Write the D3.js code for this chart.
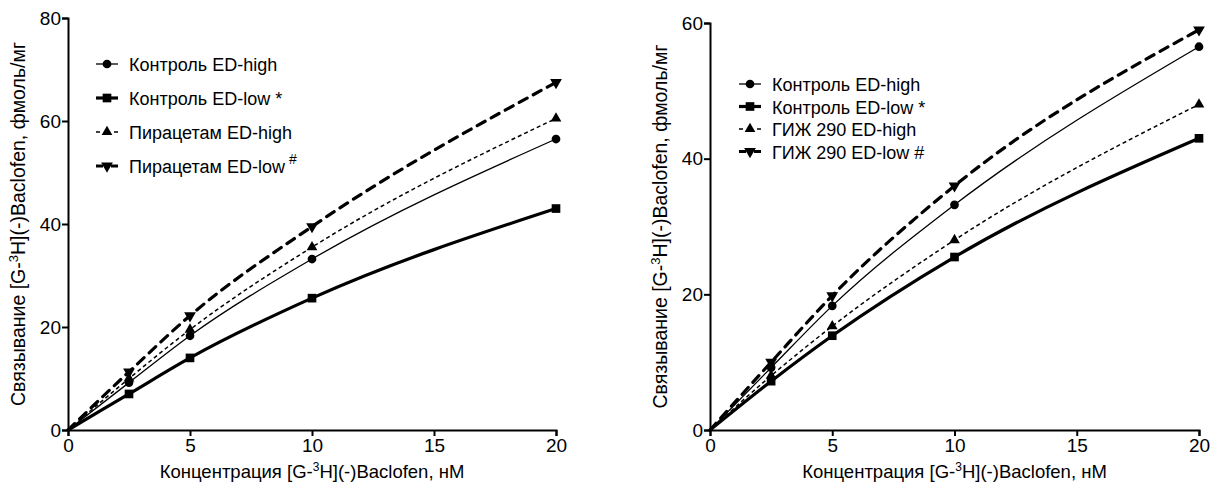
<!DOCTYPE html>
<html>
<head>
<meta charset="utf-8">
<title>Baclofen binding</title>
<script src="https://cdn.jsdelivr.net/npm/d3@7"></script>
<style>
body { margin: 0; background: #fff; }
svg { font-family: "Liberation Sans", Arial, sans-serif; }
.axis path, .axis line { stroke: #000; stroke-width: 2; }
.axis text { font-size: 19px; fill: #000; }
</style>
</head>
<body>
<script>
// concentrations, нМ
var conc = [0, 2.5, 5, 10, 20];

// left panel
var ctrlHighL = [0, 9.2, 18.3, 33.2, 56.5];
var ctrlLowL = [0, 7.0, 14.0, 25.6, 43.0];
var pirHigh = [0, 10.0, 19.5, 35.5, 60.5];
var pirLow = [0, 11.3, 22.2, 39.5, 67.5];

// right panel
var ctrlHighR = [0, 9.2, 18.3, 33.2, 56.5];
var ctrlLowR = [0, 7.2, 13.9, 25.5, 43.0];
var gizHigh = [0, 8.0, 15.3, 28.0, 48.0];
var gizLow = [0, 10.0, 19.8, 36.0, 59.0];

var xTicks = [0, 5, 10, 15, 20];
var yTicksL = [0, 20, 40, 60, 80];
var yTicksR = [0, 20, 40, 60];

var styles = [
  {sym: d3.symbolCircle, size: 60, width: 1.3, dash: null},
  {sym: d3.symbolSquare, size: 75, width: 3.2, dash: null},
  {sym: d3.symbolTriangle, size: 50, width: 1.5, dash: "4,3"},
  {sym: "down", size: 60, width: 3.2, dash: "9,7"}
];

var svg = d3.select("body").append("svg").attr("width", 1217).attr("height", 493);

function marker(g, st, x, y) {
  if (st.sym === "down") {
    g.append("path").attr("d", d3.symbol(d3.symbolTriangle, st.size)())
      .attr("transform", "translate(" + x + "," + y + ") rotate(180)").attr("fill", "#000");
  } else {
    g.append("path").attr("d", d3.symbol(st.sym, st.size)())
      .attr("transform", "translate(" + x + "," + y + ")").attr("fill", "#000");
  }
}

function panel(cfg) {
  var x = d3.scaleLinear().domain([0, 20]).range(cfg.xr);
  var y = d3.scaleLinear().domain([0, cfg.ymax]).range(cfg.yr);
  var g = svg.append("g");

  g.append("g").attr("class", "axis").attr("transform", "translate(0," + cfg.yr[0] + ")")
    .call(d3.axisBottom(x).tickValues(xTicks).tickSize(6).tickPadding(3).tickFormat(d3.format("d")));
  g.append("g").attr("class", "axis").attr("transform", "translate(" + cfg.xr[0] + ",0)")
    .call(d3.axisLeft(y).tickValues(cfg.yTicks).tickSize(6).tickPadding(1).tickFormat(d3.format("d")));

  var line = d3.line().x(function(d) { return x(d[0]); }).y(function(d) { return y(d[1]); })
    .curve(d3.curveMonotoneX);

  cfg.series.forEach(function(vals, i) {
    var st = styles[i];
    var pts = conc.map(function(c, j) { return [c, vals[j]]; });
    g.append("path").datum(pts).attr("d", line).attr("fill", "none").attr("stroke", "#000")
      .attr("stroke-width", st.width).attr("stroke-dasharray", st.dash)
      .attr("stroke-linecap", i === 3 ? "round" : "butt");
    pts.slice(1).forEach(function(p) { marker(g, st, x(p[0]), y(p[1])); });
  });

  // legend
  cfg.labels.forEach(function(lab, i) {
    var st = styles[i];
    var ly = cfg.leg[1] + i * cfg.leg[2];
    var lx = cfg.leg[0];
    g.append("line").attr("x1", lx).attr("x2", lx + 22).attr("y1", ly).attr("y2", ly)
      .attr("stroke", "#000").attr("stroke-width", st.width)
      .attr("stroke-dasharray", st.dash ? (i === 2 ? "4,5" : "7,8") : null);
    marker(g, st, lx + 11, ly);
    var t = g.append("text").attr("x", lx + 33).attr("y", ly + 7).attr("font-size", 18);
    t.append("tspan").text(lab[0]);
    if (lab[1]) t.append("tspan").attr("dy", -9).attr("dx", 4).attr("font-size", 14).text(lab[1]);
  });

  // axis titles
  var xt = g.append("text").attr("x", (cfg.xr[0] + cfg.xr[1]) / 2).attr("y", 478)
    .attr("text-anchor", "middle").attr("font-size", 18.5);
  xt.append("tspan").text("Концентрация [G-");
  xt.append("tspan").attr("dy", -7).attr("font-size", 12).text("3");
  xt.append("tspan").attr("dy", 7).text("H](-)Baclofen, нМ");

  var yt = g.append("text").attr("transform", "translate(" + cfg.ylx + "," + (cfg.yr[0] + cfg.yr[1]) / 2 + ") rotate(-90)")
    .attr("text-anchor", "middle").attr("font-size", 19.5);
  yt.append("tspan").text("Связывание [G-");
  yt.append("tspan").attr("dy", -7).attr("font-size", 13).text("3");
  yt.append("tspan").attr("dy", 7).text("H](-)Baclofen, фмоль/мг");
}

panel({
  xr: [68, 556], yr: [430, 18], ymax: 80, yTicks: yTicksL, ylx: 25,
  series: [ctrlHighL, ctrlLowL, pirHigh, pirLow],
  labels: [["Контроль ED-high"], ["Контроль ED-low *"], ["Пирацетам ED-high"], ["Пирацетам ED-low", "#"]],
  leg: [96, 64, 34]
});

panel({
  xr: [710, 1199], yr: [430, 23], ymax: 60, yTicks: yTicksR, ylx: 667,
  series: [ctrlHighR, ctrlLowR, gizHigh, gizLow],
  labels: [["Контроль ED-high"], ["Контроль ED-low *"], ["ГИЖ 290 ED-high"], ["ГИЖ 290 ED-low #"]],
  leg: [739, 84, 22.5]
});
</script>
</body>
</html>
